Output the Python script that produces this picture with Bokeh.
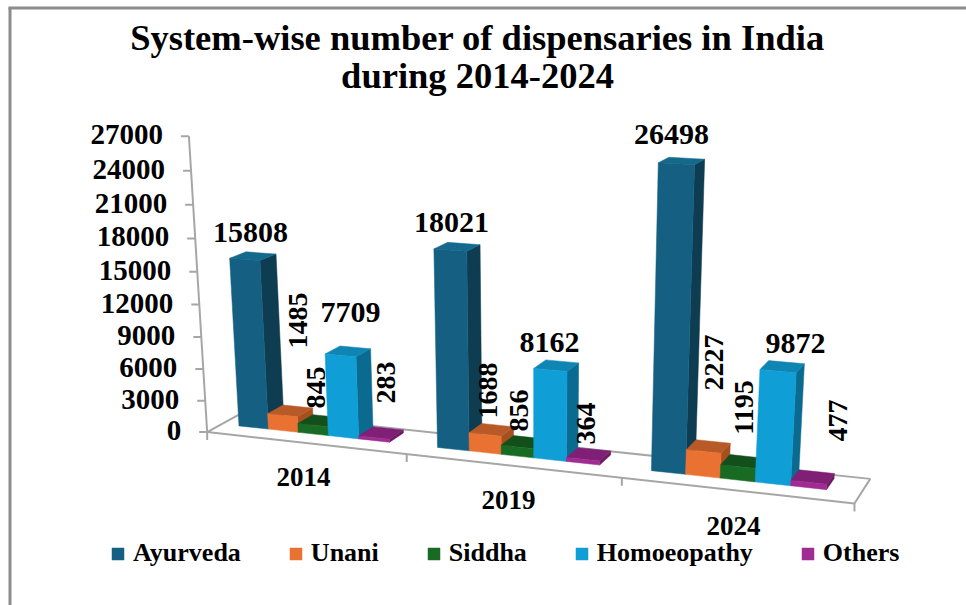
import numpy as np
from bokeh.plotting import figure
from bokeh.models import Range1d, Legend, LegendItem
from bokeh.core.properties import value
from bokeh.embed import file_html
from bokeh.resources import INLINE

# ---------- data ----------
title_lines = ["System-wise number of dispensaries in India", "during 2014-2024"]
years = ["2014", "2019", "2024"]
systems = ["Ayurveda", "Unani", "Siddha", "Homoeopathy", "Others"]
ayurveda = [15808, 18021, 26498]
unani = [1485, 1688, 2227]
siddha = [845, 856, 1195]
homoeopathy = [7709, 8162, 9872]
others = [283, 364, 477]
y_ticks = [0, 3000, 6000, 9000, 12000, 15000, 18000, 21000, 24000, 27000]

# ---------- styles ----------
front_col = ["#156082", "#e97132", "#196b24", "#0f9ed5", "#a02b93"]
top_col = ["#136a8c", "#b85a28", "#124f1a", "#0e85b3", "#7f1f75"]
side_col = ["#0e3d52", "#a84f20", "#0f4216", "#0a6a90", "#6d1a63"]
axis_col = "#a6a6a6"
FONT = value("Liberation Serif")

# ---------- camera: anchors (category pos, depth, value) -> page pixel ----------
U0, BW, D0, D1 = 0.09, 0.153, 0.40, 0.85
anchors = [
    ((0, 0, 0), (207, 430)), ((3, 0, 0), (853, 504)), ((3, 1, 0), (870, 476)),
    ((0, 1, 0), (240, 412)), ((0, 0, 27000), (188, 136)), ((0, 0, 15000), (195, 270)),
    ((U0, D0, 0), (240, 425)), ((U0, D0, 15808), (231, 258)),
    ((1 + U0, D0, 0), (437, 448)), ((1 + U0, D0, 18021), (433, 248)),
    ((2 + U0, D0, 0), (652, 472)), ((2 + U0, D0, 26498), (658, 162)),
    ((U0 + BW, D1, 15808), (277, 255)), ((1 + U0 + BW, D1, 18021), (479, 245)),
    ((2 + U0 + BW, D1, 26498), (704, 158)),
]
rows = []
for (u, d, h), (px, py) in anchors:
    X = [u, d, h / 27000.0, 1.0]
    px, py = px / 1000.0, py / 1000.0
    rows.append(X + [0, 0, 0, 0] + [-px * c for c in X])
    rows.append([0, 0, 0, 0] + X + [-py * c for c in X])
CAM = np.linalg.svd(np.array(rows))[2][-1].reshape(3, 4)


def project(u, d, h):
    w = CAM @ np.array([u, d, h / 27000.0, 1.0])
    return 1000.0 * w[0] / w[2], 1000.0 * w[1] / w[2]


# ---------- figure: ranges are page pixels ----------
p = figure(width=966, height=605, output_backend="svg", toolbar_location=None,
           x_range=Range1d(0, 966), y_range=Range1d(605, 0),
           x_axis_type=None, y_axis_type=None, min_border=0,
           outline_line_color=None, background_fill_color="white",
           border_fill_color="white")
p.grid.visible = False

# frame of the picture (top and left)
p.segment(x0=[9.5, 8], y0=[7, 7.5], x1=[9.5, 966], y1=[605, 7.5],
          line_color="#8c8c8c", line_width=3)

# floor
corners = [project(0, 0, 0), project(3, 0, 0), project(3, 1, 0), project(0, 1, 0)]
p.line([c[0] for c in corners] + [corners[0][0]], [c[1] for c in corners] + [corners[0][1]],
       line_color=axis_col, line_width=2)
# category ticks
cx, cy = zip(*[project(i, 0, 0) for i in range(4)])
p.segment(x0=cx, y0=cy, x1=cx, y1=[v + 8 for v in cy], line_color=axis_col, line_width=2)

# value axis
ax, ay = zip(*[project(0, 0, t) for t in y_ticks])
p.line(ax, ay, line_color=axis_col, line_width=2)
p.segment(x0=[v - 8 for v in ax], y0=ay, x1=ax, y1=ay, line_color=axis_col, line_width=2)
p.text(x=[v - 26 for v in ax], y=[v - 1.5 for v in ay], text=[str(t) for t in y_ticks],
       text_font=FONT, text_font_style="bold", text_font_size="29px", text_align="right",
       text_baseline="middle", text_color="#000000")

# bars, left to right
series = [ayurveda, unani, siddha, homoeopathy, others]
legend_items = []
for i, vals in enumerate(series):
    fx, fy, tx, ty, sx, sy = [], [], [], [], [], []
    for c, v in enumerate(vals):
        u0 = c + U0 + i * BW
        u1 = u0 + BW
        a, b = project(u0, D0, 0), project(u1, D0, 0)
        e, f = project(u1, D0, v), project(u0, D0, v)
        g, k = project(u1, D1, v), project(u0, D1, v)
        m = project(u1, D1, 0)
        fx.append([a[0], b[0], e[0], f[0]]); fy.append([a[1], b[1], e[1], f[1]])
        tx.append([f[0], e[0], g[0], k[0]]); ty.append([f[1], e[1], g[1], k[1]])
        sx.append([b[0], m[0], g[0], e[0]]); sy.append([b[1], m[1], g[1], e[1]])
    p.patches(sx, sy, fill_color=side_col[i], line_color=side_col[i], line_width=0.5)
    p.patches(tx, ty, fill_color=top_col[i], line_color=top_col[i], line_width=0.5)
    r = p.patches(fx, fy, fill_color=front_col[i], line_color=front_col[i], line_width=0.5)
    legend_items.append(LegendItem(label=systems[i], renderers=[r]))

# data labels: hand-placed in the source chart (page pixels, per category and system)
label_xy = [
    [(250, 232), (451, 222), (671, 134)],
    [(297, 320), (487, 390), (713, 362)],
    [(315, 387), (518, 410), (743, 407)],
    [(350, 312), (549, 342), (795, 343)],
    [(385, 382), (585, 423), (837, 420)],
]
label_rot = [0, np.pi / 2, np.pi / 2, 0, np.pi / 2]
label_size = ["30px", "28px", "28px", "30px", "28px"]
for i, vals in enumerate(series):
    p.text(x=[q[0] for q in label_xy[i]], y=[q[1] for q in label_xy[i]],
           text=[str(v) for v in vals], angle=label_rot[i], text_font=FONT,
           text_font_style="bold", text_font_size=label_size[i], text_align="center",
           text_baseline="middle", text_color="#000000")

# category labels
p.text(x=[303, 508, 733], y=[476, 499, 525], text=years, text_font=FONT,
       text_font_style="bold", text_font_size="27px", text_align="center",
       text_baseline="middle", text_color="#000000")

# title
p.text(x=[477, 477], y=[37, 75], text=title_lines, text_font=FONT, text_font_style="bold",
       text_font_size="36.5px", text_align="center", text_baseline="middle",
       text_color="#000000")

legend = Legend(items=legend_items, orientation="horizontal", location=(110, 37),
                padding=0, margin=0, spacing=47, glyph_width=15, glyph_height=15,
                label_standoff=8, border_line_color=None, background_fill_alpha=0,
                label_text_font="Liberation Serif", label_text_font_style="bold",
                label_text_font_size="26px", label_text_color="#000000")
p.add_layout(legend, "center")

open("out.html", "w").write(file_html(p, INLINE))
